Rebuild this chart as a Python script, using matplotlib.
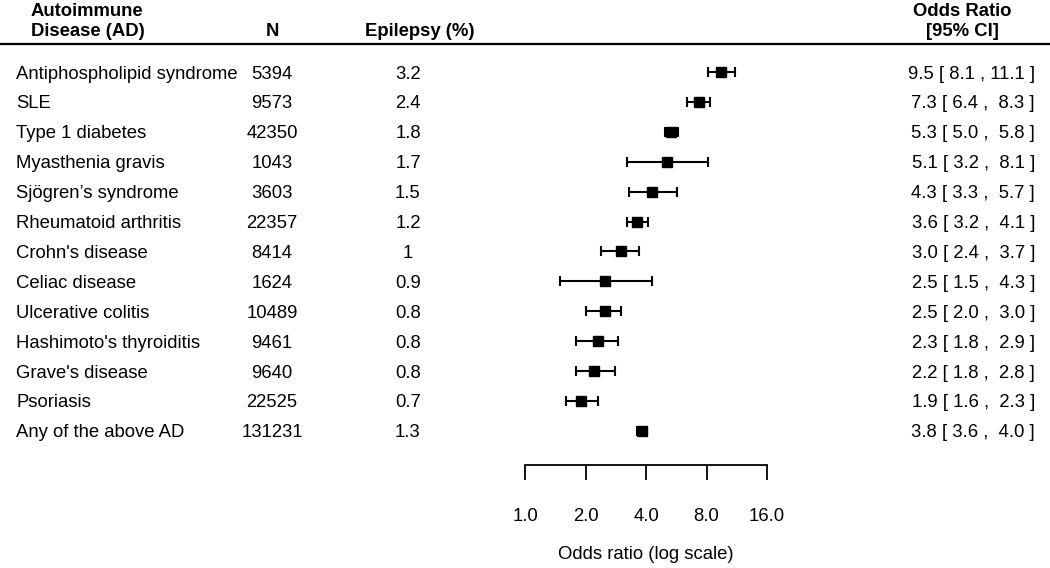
import numpy as np
import matplotlib
matplotlib.use("Agg")
import matplotlib.pyplot as plt
from matplotlib import transforms

plt.rcParams['font.family'] = ['Liberation Sans', 'DejaVu Sans']

diseases = ["Antiphospholipid syndrome", "SLE", "Type 1 diabetes", "Myasthenia gravis",
            "Sjögren’s syndrome", "Rheumatoid arthritis", "Crohn's disease", "Celiac disease",
            "Ulcerative colitis", "Hashimoto's thyroiditis", "Grave's disease", "Psoriasis",
            "Any of the above AD"]
n_cases = ["5394", "9573", "42350", "1043", "3603", "22357", "8414", "1624",
           "10489", "9461", "9640", "22525", "131231"]
epilepsy_pct = ["3.2", "2.4", "1.8", "1.7", "1.5", "1.2", "1", "0.9",
                "0.8", "0.8", "0.8", "0.7", "1.3"]
odds = [9.5, 7.3, 5.3, 5.1, 4.3, 3.6, 3.0, 2.5, 2.5, 2.3, 2.2, 1.9, 3.8]
ci_low = [8.1, 6.4, 5.0, 3.2, 3.3, 3.2, 2.4, 1.5, 2.0, 1.8, 1.8, 1.6, 3.6]
ci_high = [11.1, 8.3, 5.8, 8.1, 5.7, 4.1, 3.7, 4.3, 3.0, 2.9, 2.8, 2.3, 4.0]
tick_vals = [1, 2, 4, 8, 16]
tick_labels = ["1.0", "2.0", "4.0", "8.0", "16.0"]

W, H = 1050, 568
fig = plt.figure(figsize=(W / 100, H / 100), dpi=100)

# forest panel: x from OR 1 (px 525) to 16 (px 767); rows 0..12, bottom spine at row 13.14
top_px, bot_px = 42.1, 465
ax = fig.add_axes([525 / W, 1 - bot_px / H, (767 - 525) / W, (bot_px - top_px) / H])
ax.set_xscale("log", base=2)
ax.set_xlim(1, 16)
ax.set_ylim(13.14, -1)

rows = np.arange(len(diseases))
odds_a = np.array(odds)
err = np.vstack([odds_a - np.array(ci_low), np.array(ci_high) - odds_a])
ax.errorbar(odds_a, rows, xerr=err, fmt="s", color="black", ms=7.2,
            elinewidth=1.5, capsize=3.5, capthick=1.5)

for s in ["top", "right", "left"]:
    ax.spines[s].set_visible(False)
ax.spines["bottom"].set_linewidth(1.3)
ax.set_yticks([])
ax.set_xticks(tick_vals)
ax.set_xticklabels(tick_labels)
ax.minorticks_off()
fs = 13.3
ax.tick_params(axis="x", direction="out", length=11, width=1.3, pad=20, labelsize=fs)
ax.set_xlabel("Odds ratio (log scale)", fontsize=fs, labelpad=15)

# table columns
tr = transforms.blended_transform_factory(fig.transFigure, ax.transData)
for i in rows:
    kw = dict(transform=tr, va="center_baseline", fontsize=fs)
    ax.text(16 / W, i, diseases[i], ha="left", **kw)
    ax.text(272 / W, i, n_cases[i], ha="center", **kw)
    ax.text(408 / W, i, epilepsy_pct[i], ha="center", **kw)
    lab = f"{odds[i]:.1f} [{ci_low[i]:4.1f} , {ci_high[i]:4.1f} ]"
    ax.text(1035 / W, i, lab, ha="right", **kw)

# header
def fy(px):
    return 1 - px / H

fig.text(31 / W, fy(12), "Autoimmune", fontsize=fs, fontweight="bold", ha="left", va="center")
fig.text(31 / W, fy(32), "Disease (AD)", fontsize=fs, fontweight="bold", ha="left", va="center")
fig.text(272 / W, fy(32), "N", fontsize=fs, fontweight="bold", ha="center", va="center")
fig.text(420 / W, fy(32), "Epilepsy (%)", fontsize=fs, fontweight="bold", ha="center", va="center")
fig.text(962 / W, fy(12), "Odds Ratio", fontsize=fs, fontweight="bold", ha="center", va="center")
fig.text(962 / W, fy(32), "[95% CI]", fontsize=fs, fontweight="bold", ha="center", va="center")
fig.add_artist(plt.Line2D([0, 1], [fy(44), fy(44)], color="black", lw=1.6,
                          transform=fig.transFigure))

fig.savefig("out.png", dpi=100)
